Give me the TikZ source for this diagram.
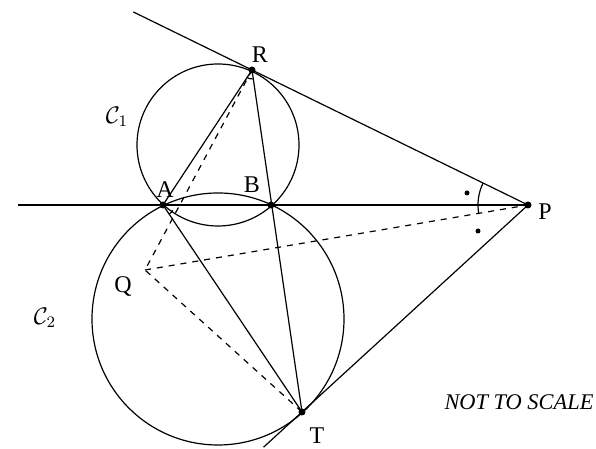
\documentclass[tikz,border=0pt]{standalone}
\usepackage{amsmath, amssymb}
\usepackage{fontspec}
\setmainfont{Liberation Serif}
\usetikzlibrary{calc}

\begin{document}
\begin{tikzpicture}[x=0.5pt, y=0.5pt, line width=0.6pt,
    lbl/.style={inner sep=0pt, font=\fontsize{12}{14}\selectfont},
    pt/.style={circle, fill=black, inner sep=0pt, minimum size=3.5pt}]
    \useasboundingbox (0,0) rectangle (596,449);
    % points
    \node[pt] (A) at (163,244) {};
    \node[pt] (B) at (271,244) {};
    \node[pt] (P) at (528,244) {};
    \node[pt] (R) at (252,379) {};
    \node[pt] (T) at (302,37) {};
    \coordinate (Q) at (145,179);
    \coordinate (L) at (18,244);
    \coordinate (Rend) at ($(P)!1.43!(R)$);
    \coordinate (Tend) at ($(P)!1.17!(T)$);
    % circles
    \draw (218,304) circle[radius=81];
    \draw (218,130) circle[radius=126];
    % lines
    \draw (L) -- (P.center);
    \draw (Rend) -- (P.center) -- (Tend);
    \draw (A.center) -- (R.center);
    \draw (A.center) -- (T.center);
    \draw (R.center) -- (T.center);
    \draw[dashed] (R.center) -- (Q) -- (T.center);
    \draw[dashed] (Q) -- (P.center);
    % angle marks
    \draw (P.center) ++(154:50) arc[start angle=154, end angle=190, radius=50];
    \draw (R.center) ++(237:9) arc[start angle=237, end angle=278, radius=9];
    \draw (A.center) ++(-56:11) arc[start angle=-56, end angle=-28, radius=11];
    \fill (467,256) circle[radius=2.5];
    \fill (478,218) circle[radius=2.5];
    % labels
    \node[lbl] (labR) at (260,394) {R};
    \node[lbl] (labA) at (165,259) {A};
    \node[lbl] (labB) at (252,264) {B};
    \node[lbl] (labP) at (545,237) {P};
    \node[lbl] (labQ) at (123,162) {Q};
    \node[lbl] (labT) at (317,13) {T};
    \node[lbl] (labC1) at (117,332) {$\mathcal{C}_1$};
    \node[lbl] (labC2) at (45,131) {$\mathcal{C}_2$};
    \node[lbl, font=\fontsize{11.2}{13}\selectfont\itshape] (note) at (519,47) {NOT TO SCALE};
\end{tikzpicture}
\end{document}
